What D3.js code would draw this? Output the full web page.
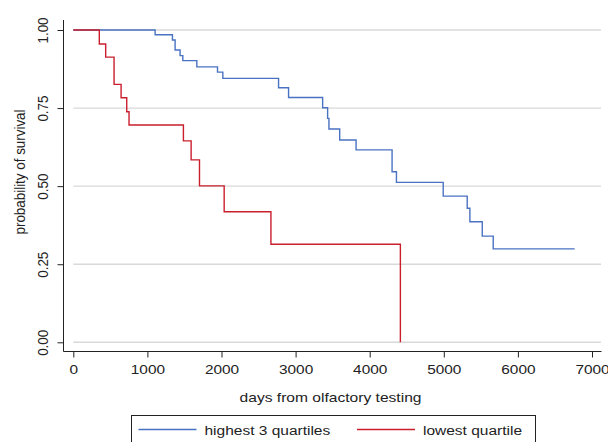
<!DOCTYPE html>
<html lang="en">
<head>
<meta charset="UTF-8">
<title>Survival by olfactory quartile</title>
<script src="https://d3js.org/d3.v7.min.js"></script>
<style>
    body { margin: 0; background: #fff; }
    svg { font-family: "Liberation Sans", Arial, sans-serif; }
    .grid line { stroke: #d9d9d9; stroke-width: 1.4; }
    .axis path, .axis line { stroke: #222; }
    .axis text { fill: #222; }
    .lbl { fill: #222; }
</style>
</head>
<body>
<div id="chart"></div>
<script>
// Kaplan-Meier steps
const blueTimes = [0, 1104, 1338, 1374, 1441, 1478, 1667, 1946, 2018, 2770, 2905, 3365, 3432, 3450, 3595, 3816, 4302, 4361, 4992, 5316, 5352, 5519, 5667, 6766];
const blueSurv  = [1, 0.985, 0.968, 0.936, 0.918, 0.902, 0.882, 0.865, 0.845, 0.815, 0.784, 0.751, 0.717, 0.683, 0.648, 0.616, 0.546, 0.512, 0.468, 0.429, 0.386, 0.340, 0.299, 0.299];

const redTimes = [0, 351, 437, 550, 645, 721, 752, 1486, 1590, 1703, 2036, 2667, 4414];
const redSurv  = [1, 0.955, 0.913, 0.826, 0.783, 0.738, 0.696, 0.645, 0.584, 0.501, 0.418, 0.314, 0];

const xTicks = [0, 1000, 2000, 3000, 4000, 5000, 6000, 7000];
const yTicks = [0, 0.25, 0.5, 0.75, 1];
const seriesNames = ["highest 3 quartiles", "lowest quartile"];
const seriesColors = ["#4a72c2", "#c91f2d"];

const width = 608, height = 442;
const axisX = 63.5, axisY = 351.5;
// the original figure is squashed vertically a little, text too
const squash = 0.87;

const svg = d3.select("#chart").append("svg")
    .attr("width", width)
    .attr("height", height);

const x = d3.scaleLinear().domain([0, 7000]).range([73.3, 592]);
const y = d3.scaleLinear().domain([0, 1]).range([342.3, 30]);

// grid
svg.append("g").attr("class", "grid")
    .selectAll("line")
    .data(yTicks)
    .enter().append("line")
    .attr("x1", x(0)).attr("x2", 601)
    .attr("y1", d => y(d)).attr("y2", d => y(d));

// y axis
const gy = svg.append("g")
    .attr("class", "axis")
    .attr("transform", `translate(${axisX},0)`)
    .call(d3.axisLeft(y).tickValues(yTicks).tickSize(6).tickFormat(d3.format(".2f")));
gy.select(".domain").remove();
gy.append("line").attr("x1", 0).attr("x2", 0).attr("y1", 20).attr("y2", axisY);
gy.selectAll("text")
    .attr("x", 0).attr("y", 0).attr("dy", null)
    .attr("transform", `translate(-20.5,0) rotate(-90) scale(${squash},1)`)
    .attr("dominant-baseline", "central")
    .attr("text-anchor", "middle")
    .style("font-size", "15.4px");

// x axis
const gx = svg.append("g")
    .attr("class", "axis")
    .attr("transform", `translate(0,${axisY})`)
    .call(d3.axisBottom(x).tickValues(xTicks).tickSize(6).tickFormat(d3.format("d")));
gx.select(".domain").remove();
gx.append("line").attr("x1", axisX).attr("x2", 601.5).attr("y1", 0).attr("y2", 0);
gx.selectAll("text")
    .attr("y", 0).attr("dy", null)
    .attr("transform", `translate(0,18) scale(1,${squash})`)
    .attr("dominant-baseline", "central")
    .style("font-size", "15.4px");

// axis titles
svg.append("text").attr("class", "lbl")
    .attr("transform", `translate(20,172) rotate(-90) scale(${squash},1)`)
    .attr("dominant-baseline", "central")
    .attr("text-anchor", "middle")
    .style("font-size", "15.4px")
    .text("probability of survival");

svg.append("text").attr("class", "lbl")
    .attr("transform", `translate(330.5,401.5) scale(1,${squash})`)
    .attr("text-anchor", "middle")
    .style("font-size", "15.6px")
    .text("days from olfactory testing");

// survival curves
const step = d3.line().curve(d3.curveStepAfter)
    .x(d => x(d[0])).y(d => y(d[1]));

const curves = [
    d3.zip(blueTimes, blueSurv),
    d3.zip(redTimes, redSurv)
];

svg.selectAll(".curve")
    .data(curves)
    .enter().append("path")
    .attr("class", "curve")
    .attr("fill", "none")
    .attr("stroke", (d, i) => seriesColors[i])
    .attr("stroke-width", 1.4)
    .attr("d", step);

// legend
const lg = svg.append("g");
lg.append("rect")
    .attr("x", 131.5).attr("y", 415.5)
    .attr("width", 404).attr("height", 40)
    .attr("fill", "#fff").attr("stroke", "#222");

const legX = [138.5, 357];
seriesNames.forEach((name, i) => {
    lg.append("line")
        .attr("x1", legX[i]).attr("x2", legX[i] + 58)
        .attr("y1", 429.5).attr("y2", 429.5)
        .attr("stroke", seriesColors[i]).attr("stroke-width", 1.4);
    lg.append("text").attr("class", "lbl")
        .attr("transform", `translate(${legX[i] + 66},435) scale(1,${squash})`)
        .style("font-size", "15.5px")
        .text(name);
});
</script>
</body>
</html>
